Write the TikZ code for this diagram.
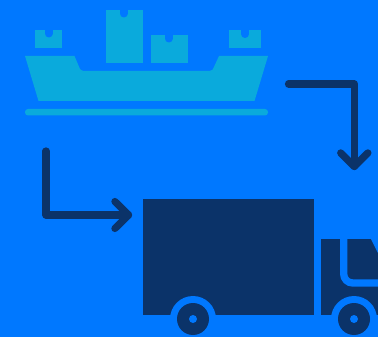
\documentclass[tikz,border=0pt]{standalone}
\usepackage{xcolor}
\usepackage{tikz}
\usetikzlibrary{calc}
\definecolor{skyback}{HTML}{0078FF}
\definecolor{shipblue}{HTML}{0AAADC}
\definecolor{truckblue}{HTML}{0B3369}

\begin{document}
\begin{tikzpicture}[x=1pt, y=-1pt,
    flowline/.style={draw=truckblue, line width=7.2pt, line cap=round, line join=round}]
    \useasboundingbox (0,0) rectangle (378,337);
    \clip (0,0) rectangle (378,337);
    \fill[skyback] (0,0) rectangle (378,337);

    % ship
    \fill[shipblue, line join=round] (25,56) -- (74.5,56) -- (80,69) [rounded corners=1.5pt] -- (82,71) -- (211,71) [sharp corners] -- (213,69) -- (219,56) -- (268,56) -- (254.5,101) -- (38.5,101) -- cycle;
    \fill[shipblue, rounded corners=3pt] (25,109) rectangle (268,115.5);
    \foreach \xl/\yt/\xr/\yb/\xn in {35/30/62/48.5/48.5, 105.5/10/143/63.5/123.7, 150.5/35/188/63.5/168.7, 228.5/30.5/261/48/245} {
        \fill[shipblue] (\xl,\yt) rectangle (\xr,\yb);
        \draw[skyback, line width=8pt, line cap=round] (\xn,\yt-2) -- (\xn,\yt+3.5);
    }

    % truck
    \fill[truckblue] (143,198.5) rectangle (313.5,315);
    \fill[truckblue] (321,238.5) rectangle (378,315);
    \draw[skyback, line width=7.3pt, rounded corners=9pt] (343.7,234) -- (343.7,283) -- (386,283);
    \fill[skyback] (370.7,238.5) -- (378,253) -- (378,238.5) -- cycle;
    \foreach \xw in {193,354} {
        \fill[skyback] (\xw,319) circle (23);
        \fill[truckblue] (\xw,319) circle (16);
        \fill[skyback] (\xw,319) circle (4);
    }

    % arrows
    \coordinate (shipstart) at (288.5,84);
    \coordinate (shipbend) at (354.3,84);
    \coordinate (shiptip) at (354.3,166.5);
    \coordinate (truckstart) at (46,151);
    \coordinate (truckbend) at (46,215);
    \coordinate (trucktip) at (128.5,215);
    \draw[flowline] (shipstart) -- (shipbend) -- (shiptip);
    \draw[flowline] ($(shiptip)+(-13.6,-13.6)$) -- (shiptip) -- ($(shiptip)+(13.6,-13.6)$);
    \draw[flowline] (truckstart) -- (truckbend) -- (trucktip);
    \draw[flowline] ($(trucktip)+(-13.6,-13.5)$) -- (trucktip) -- ($(trucktip)+(-13.6,13.5)$);
\end{tikzpicture}
\end{document}
